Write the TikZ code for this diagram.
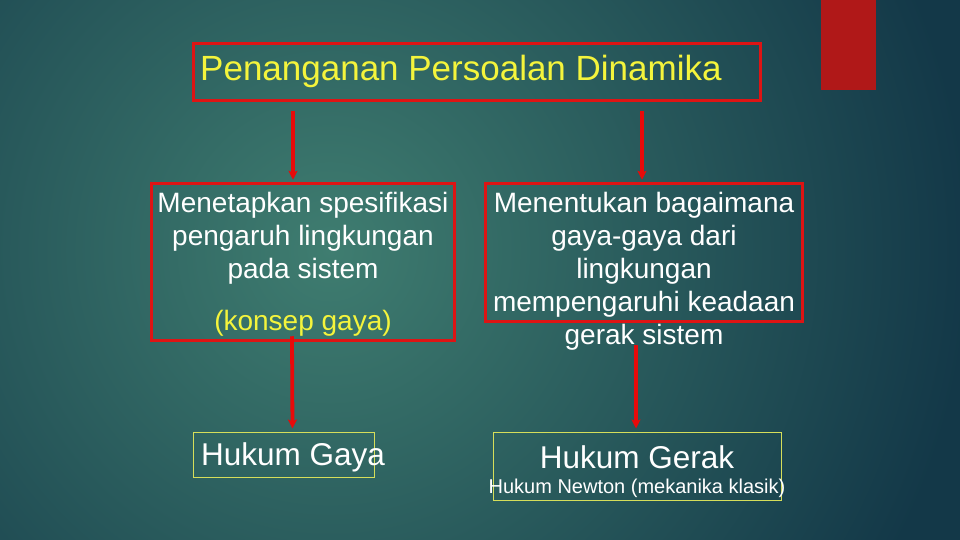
\documentclass[tikz,border=0pt]{standalone}
\usepackage{fontspec}
\setmainfont{Liberation Sans}
\usetikzlibrary{arrows.meta,positioning}
\definecolor{bgmid}{HTML}{3F7D70}
\definecolor{bgedge}{HTML}{133848}
\definecolor{boxred}{HTML}{DE1414}
\definecolor{arrowred}{HTML}{E80A0A}
\definecolor{blockred}{HTML}{B01818}
\definecolor{txtyellow}{HTML}{F4F43C}
\definecolor{thinyellow}{HTML}{D6DE5A}
\begin{document}
\begin{tikzpicture}
[x=1pt, y=-1pt,
 redbox/.style={draw=boxred, line width=3.5pt, inner sep=0pt},
 thinbox/.style={draw=thinyellow, line width=1pt, inner sep=0pt},
 isi/.style={text=white, align=center, font=\fontsize{28}{33}\selectfont},
 hukum/.style={text=white, font=\fontsize{31.5}{36}\selectfont, inner sep=0pt},
 panah/.style={draw=arrowred, line width=3.8pt, -{Stealth[length=9pt,width=9pt,inset=2pt]}}]
  % background
  \useasboundingbox (0,0) rectangle (960,540);
  \fill[bgedge] (0,0) rectangle (960,540);
  \begin{scope}
    \clip (0,0) rectangle (960,540);
    \shade[inner color=bgmid, outer color=bgedge] (330,250) circle (640pt);
  \end{scope}
  \fill[blockred] (821,0) rectangle (876,90);
  % boxes
  \node[redbox, minimum width=567pt, minimum height=57pt] (judul) at (477,72) {};
  \node[redbox, minimum width=303pt, minimum height=157pt] (kiri) at (303,262) {};
  \node[redbox, minimum width=317pt, minimum height=138pt] (kanan) at (644,252.5) {};
  \node[thinbox, minimum width=181pt, minimum height=45pt] (gaya) at (283.5,454.5) {};
  \node[thinbox, minimum width=288pt, minimum height=68pt] (gerak) at (637,466) {};
  % texts
  \node[anchor=west, inner sep=0pt, text=txtyellow, font=\fontsize{35}{40}\selectfont]
    (tjudul) at (200,71) {Penanganan Persoalan Dinamika};
  \node[isi] (tkiri) at (303,238) {Menetapkan spesifikasi\\pengaruh lingkungan\\pada sistem};
  \node[isi, text=txtyellow] (konsep) at (303,323) {(konsep gaya)};
  \node[isi] (tkanan) at (644,271) {Menentukan bagaimana\\gaya-gaya dari\\lingkungan\\mempengaruhi keadaan\\gerak sistem};
  \node[hukum, anchor=west] (tgaya) at (201,457) {Hukum Gaya};
  \node[hukum] (tgerak) at (637,457) {Hukum Gerak};
  \node[text=white, inner sep=0pt, font=\fontsize{20}{24}\selectfont] (newton) at (637,488) {Hukum Newton (mekanika klasik)};
  % arrows
  \draw[panah, shorten <=9pt, shorten >=2pt] ([xshift=-184pt]judul.south) -- ([xshift=-10pt]kiri.north);
  \draw[panah, shorten <=9pt, shorten >=2pt] ([xshift=165pt]judul.south) -- ([xshift=-2pt]kanan.north);
  \draw[panah, shorten >=3pt] ([xshift=-11pt,yshift=6pt]kiri.south) -- ([xshift=9pt]gaya.north);
  \draw[panah, shorten >=3pt] ([xshift=-8pt,yshift=-22pt]kanan.south) -- ([xshift=-1pt]gerak.north);
\end{tikzpicture}
\end{document}
